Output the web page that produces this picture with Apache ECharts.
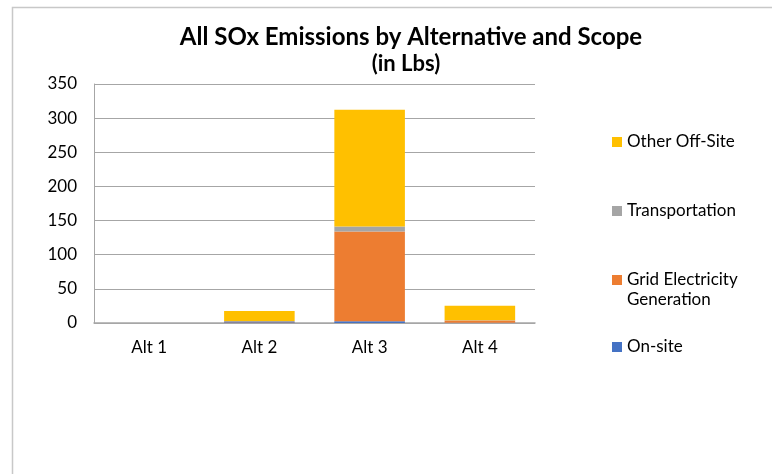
<!DOCTYPE html>
<html>
<head>
<meta charset="utf-8">
<script src="https://cdn.jsdelivr.net/npm/echarts@6/dist/echarts.min.js"></script>
<style>
  html, body { margin: 0; padding: 0; background: #fff; }
  #chart { width: 772px; height: 474px; }
</style>
</head>
<body>
<div id="chart"></div>
<script>
// Alternatives and SOx emissions (lbs) per scope
const categories = ['Alt 1', 'Alt 2', 'Alt 3', 'Alt 4'];
const onSite = [0, 1.0, 2.5, 0.5];
const gridElectricity = [0, 0.3, 131.4, 3.0];
const transportation = [0, 1.5, 7.3, 0.5];
const otherOffSite = [0, 14.8, 171.1, 21.4];
const yTicks = { min: 0, max: 350, interval: 50 };

const FONT = 'Lato, "Open Sans", sans-serif';
const colors = {
  'On-site': '#4472C4',
  'Grid Electricity Generation': '#ED7D31',
  'Transportation': '#A5A5A5',
  'Other Off-Site': '#FFC000'
};

function stacked(name, data) {
  return {
    name: name,
    type: 'bar',
    stack: 'total',
    data: data,
    barWidth: '64%',
    itemStyle: { color: colors[name] },
    emphasis: { disabled: true }
  };
}

// one legend block per series so each entry can sit at its own height
function legendAt(name, centerY, label) {
  return {
    data: [name],
    left: 612,
    top: centerY - 10,
    padding: 0,
    orient: 'vertical',
    itemWidth: 10,
    itemHeight: 10,
    itemGap: 0,
    icon: 'rect',
    selectedMode: false,
    formatter: function () { return label || name; },
    textStyle: { fontFamily: FONT, fontSize: 17, lineHeight: 20, color: '#000' }
  };
}

const chart = echarts.init(document.getElementById('chart'), null, { renderer: 'canvas' });
chart.setOption({
  backgroundColor: '#fff',
  animation: false,
  title: [
    {
      text: 'All SOx Emissions by Alternative and Scope',
      left: 411,
      textAlign: 'center',
      top: 24,
      padding: 0,
      textStyle: { fontFamily: FONT, fontSize: 24, lineHeight: 26, fontWeight: 'bold', color: '#000' }
    },
    {
      text: '(in Lbs)',
      left: 406,
      textAlign: 'center',
      top: 52,
      padding: 0,
      textStyle: { fontFamily: FONT, fontSize: 22, lineHeight: 24, fontWeight: 'bold', color: '#000' }
    }
  ],
  legend: [
    legendAt('Other Off-Site', 142),
    legendAt('Transportation', 211),
    legendAt('Grid Electricity Generation', 280, 'Grid Electricity'),
    legendAt('On-site', 347)
  ],
  grid: { left: 94, right: 237, top: 84, bottom: 151 },
  xAxis: {
    type: 'category',
    data: categories,
    axisLine: { lineStyle: { color: '#a6a6a6', width: 1.5 } },
    axisTick: { show: false },
    axisLabel: { fontFamily: FONT, fontSize: 17, color: '#000', margin: 16 }
  },
  yAxis: {
    type: 'value',
    min: yTicks.min,
    max: yTicks.max,
    interval: yTicks.interval,
    axisLine: { show: true, lineStyle: { color: '#a6a6a6' } },
    axisTick: { show: false },
    splitLine: { lineStyle: { color: '#a6a6a6' } },
    axisLabel: { fontFamily: FONT, fontSize: 17, color: '#000', margin: 17 }
  },
  series: [
    stacked('On-site', onSite),
    stacked('Grid Electricity Generation', gridElectricity),
    stacked('Transportation', transportation),
    stacked('Other Off-Site', otherOffSite)
  ],
  graphic: [
    {
      type: 'rect',
      silent: true,
      shape: { x: 12.5, y: 7.5, width: 800, height: 500 },
      style: { fill: 'none', stroke: '#c8c8c8', lineWidth: 1.5 }
    },
    {
      type: 'text',
      x: 627,
      y: 300,
      style: { text: 'Generation', fontFamily: FONT, fontSize: 17, fill: '#000', verticalAlign: 'middle' }
    }
  ]
});
</script>
</body>
</html>
